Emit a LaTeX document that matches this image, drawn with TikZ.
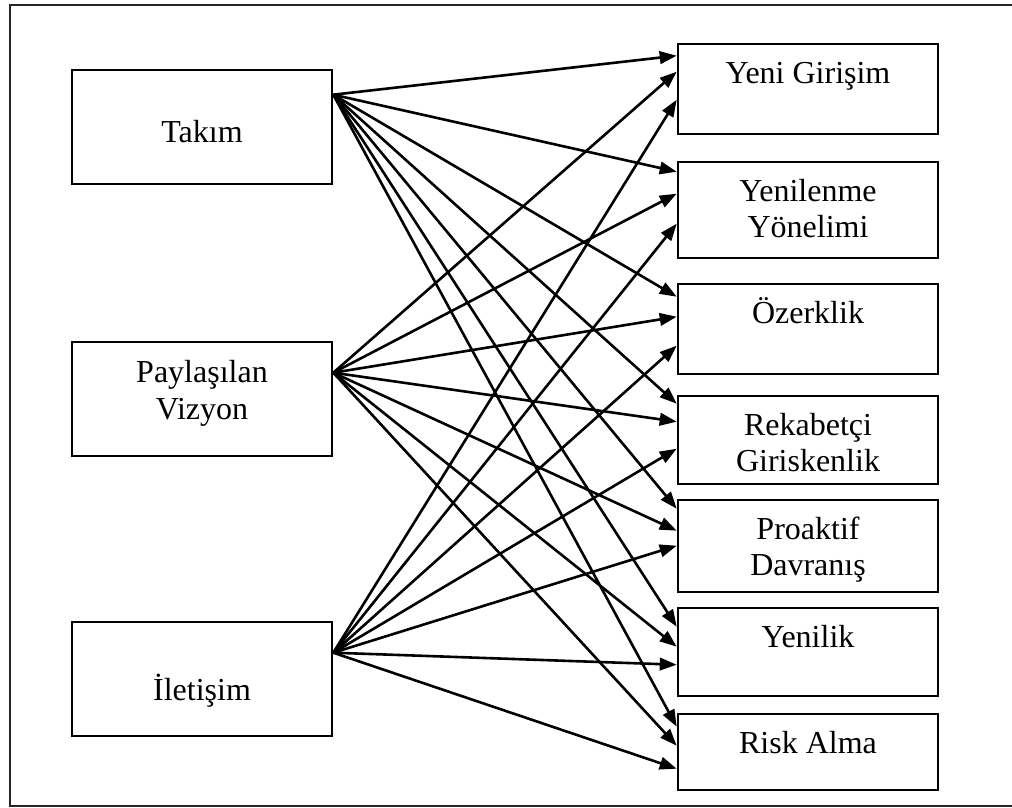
\documentclass[tikz,border=0pt]{standalone}
\usepackage{fontspec}
\setmainfont{Liberation Serif}
\usetikzlibrary{arrows.meta,calc}
\begin{document}
\begin{tikzpicture}[x=1pt,y=-1pt,
  box/.style={draw, line width=2.6pt, inner sep=0pt, minimum width=260pt},
  lbl/.style={anchor=base, inner sep=0pt, font=\fontsize{32}{36}\selectfont},
  arr/.style={line width=2.6pt, -{Triangle[length=17pt,width=12.5pt]}},
]
\useasboundingbox (0,0) rectangle (1012,808);
% outer frame (right side runs off the page)
\draw[line width=2.4pt, black!85] (1016,5) -- (10,5) -- (10,806) -- (1016,806);

% left column
\node[box, minimum height=114pt] (tak) at (202,127) {};
\node[box, minimum height=114pt] (pay) at (202,399) {};
\node[box, minimum height=114pt] (ile) at (202,679) {};
\node[lbl] at (202,142) {Takım};
\node[lbl] at (202,382) {\begin{tabular}[t]{@{}c@{}}Paylaşılan\\[1.5pt]Vizyon\end{tabular}};
\node[lbl] at (202,700) {İletişim};

% right column
\node[box, minimum height=90pt] (r1) at (808,89) {};
\node[box, minimum height=96pt] (r2) at (808,210) {};
\node[box, minimum height=90pt] (r3) at (808,329) {};
\node[box, minimum height=88pt] (r4) at (808,440) {};
\node[box, minimum height=92pt] (r5) at (808,546) {};
\node[box, minimum height=88pt] (r6) at (808,652) {};
\node[box, minimum height=76pt] (r7) at (808,752) {};
\node[lbl] at ($(r1.north)+(0,41)$) {Yeni Girişim};
\node[lbl] at ($(r2.north)+(0,41)$) {\begin{tabular}[t]{@{}c@{}}Yenilenme\\Yönelimi\end{tabular}};
\node[lbl] at ($(r3.north)+(0,41)$) {Özerklik};
\node[lbl] at ($(r4.north)+(0,41)$) {\begin{tabular}[t]{@{}c@{}}Rekabetçi\\Giriskenlik\end{tabular}};
\node[lbl] at ($(r5.north)+(0,41)$) {\begin{tabular}[t]{@{}c@{}}Proaktif\\Davranış\end{tabular}};
\node[lbl] at ($(r6.north)+(0,41)$) {Yenilik};
\node[lbl] at ($(r7.north)+(0,41)$) {Risk Alma};

% connector sources on the right edges of the left boxes
\coordinate (tS) at ($(tak.north east)+(0,26)$);
\coordinate (pS) at ($(pay.north east)+(0,32)$);
\coordinate (iS) at ($(ile.north east)+(0,32)$);

% every source points to every target box
\foreach \r/\a/\b/\c in {r1/13/29/57, r2/11/33/63, r3/14/34/63, r4/9/27/54,
                         r5/10/32/47, r6/20/40/58, r7/14/33/56} {
  \draw[arr] (tS) -- ($(\r.north west)+(0,\a)$);
  \draw[arr] (pS) -- ($(\r.north west)+(0,\b)$);
  \draw[arr] (iS) -- ($(\r.north west)+(0,\c)$);
}
\end{tikzpicture}
\end{document}
